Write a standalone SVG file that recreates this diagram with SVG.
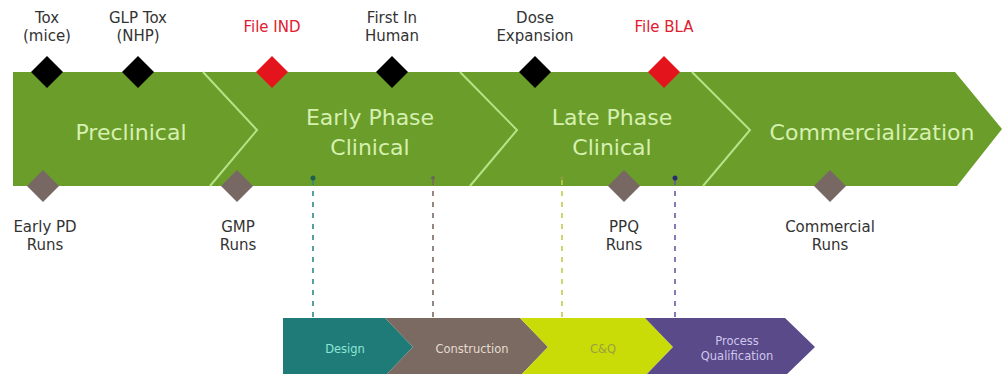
<svg xmlns="http://www.w3.org/2000/svg" width="1005" height="374" viewBox="0 0 1005 374">
<defs>
<style>
.lbl{font-family:"DejaVu Sans",Verdana,sans-serif;font-size:15px;fill:#333;text-anchor:middle}
.red{fill:#e0202e}
.band{font-family:"DejaVu Sans",Verdana,sans-serif;font-size:22px;fill:#d6f0b0;text-anchor:middle}
.sep{fill:none;stroke:#b8e286;stroke-width:2}
.blk{fill:#000}
.rdd{fill:#e3141c}
.gry{fill:#776864}
.dash{stroke-width:1.6;stroke-dasharray:5 6;fill:none}
.sm{font-family:"DejaVu Sans",Verdana,sans-serif;font-size:11.5px;text-anchor:middle}
</style>
<path id="dia" d="M0,-16 L16,0 L0,16 L-16,0 Z"/>
</defs>
<rect width="1005" height="374" fill="#fff"/>

<g id="band">
<polygon points="13,72 955,72 1002,129 957,186 13,186" fill="#6b9d2b"/>
<polyline class="sep" points="203,72 257,130 210,186"/>
<polyline class="sep" points="460,72 517,130 470,186"/>
<polyline class="sep" points="692,72 750,130 703,186"/>
</g>

<g id="preclinical"><text class="band" x="131" y="140">Preclinical</text></g>
<g id="early-phase"><text class="band" x="370" y="125">Early Phase</text><text class="band" x="370" y="155">Clinical</text></g>
<g id="late-phase"><text class="band" x="612" y="125">Late Phase</text><text class="band" x="612" y="155">Clinical</text></g>
<g id="commercialization"><text class="band" x="872" y="140">Commercialization</text></g>

<g id="connectors">
<line class="dash" x1="313" y1="180" x2="313" y2="318" stroke="#2e8a86"/>
<line class="dash" x1="433" y1="180" x2="433" y2="318" stroke="#7a6a62"/>
<line class="dash" x1="562" y1="180" x2="562" y2="318" stroke="#c4cc4a"/>
<line class="dash" x1="675" y1="180" x2="675" y2="318" stroke="#6a58a0"/>
<circle cx="313" cy="178" r="2.5" fill="#1d5e4c"/>
<circle cx="433" cy="178" r="2" fill="#6a6a58"/>
<circle cx="562" cy="178" r="1.5" fill="#8aa040"/>
<circle cx="675" cy="178" r="2.5" fill="#2a2a70"/>
</g>

<g id="tox-mice"><use href="#dia" class="blk" x="47" y="72"/><text class="lbl" x="47" y="23">Tox</text><text class="lbl" x="47" y="41">(mice)</text></g>
<g id="glp-tox"><use href="#dia" class="blk" x="138" y="72"/><text class="lbl" x="138" y="23">GLP Tox</text><text class="lbl" x="138" y="41">(NHP)</text></g>
<g id="file-ind"><use href="#dia" class="rdd" x="272" y="72"/><text class="lbl red" x="272" y="32">File IND</text></g>
<g id="first-in-human"><use href="#dia" class="blk" x="392" y="72"/><text class="lbl" x="392" y="23">First In</text><text class="lbl" x="392" y="41">Human</text></g>
<g id="dose-expansion"><use href="#dia" class="blk" x="535" y="72"/><text class="lbl" x="535" y="23">Dose</text><text class="lbl" x="535" y="41">Expansion</text></g>
<g id="file-bla"><use href="#dia" class="rdd" x="664" y="72"/><text class="lbl red" x="664" y="32">File BLA</text></g>

<g id="early-pd-runs"><use href="#dia" class="gry" x="43" y="186"/><text class="lbl" x="45" y="232">Early PD</text><text class="lbl" x="45" y="250">Runs</text></g>
<g id="gmp-runs"><use href="#dia" class="gry" x="237" y="186"/><text class="lbl" x="238" y="232">GMP</text><text class="lbl" x="238" y="250">Runs</text></g>
<g id="ppq-runs"><use href="#dia" class="gry" x="624" y="186"/><text class="lbl" x="624" y="232">PPQ</text><text class="lbl" x="624" y="250">Runs</text></g>
<g id="commercial-runs"><use href="#dia" class="gry" x="830" y="186"/><text class="lbl" x="830" y="232">Commercial</text><text class="lbl" x="830" y="250">Runs</text></g>

<g id="design"><polygon points="283,318 385,318 413,347 385,376 283,376" fill="#1e7b78"/><text class="sm" x="345" y="353" fill="#8fe3d6">Design</text></g>
<g id="construction"><polygon points="385,318 520,318 548,347 520,376 385,376 413,347" fill="#7a6a62"/><text class="sm" x="472" y="353" fill="#e6dbd0">Construction</text></g>
<g id="cq"><polygon points="520,318 645,318 673,347 645,376 520,376 548,347" fill="#c9dc08"/><text class="sm" x="603" y="353" fill="#9aa040">C&amp;Q</text></g>
<g id="process-qualification"><polygon points="645,318 785,318 815,347 785,376 645,376 673,347" fill="#5a4a8a"/><text class="sm" x="737" y="345" fill="#cfc6ea">Process</text><text class="sm" x="737" y="360" fill="#cfc6ea">Qualification</text></g>
</svg>
